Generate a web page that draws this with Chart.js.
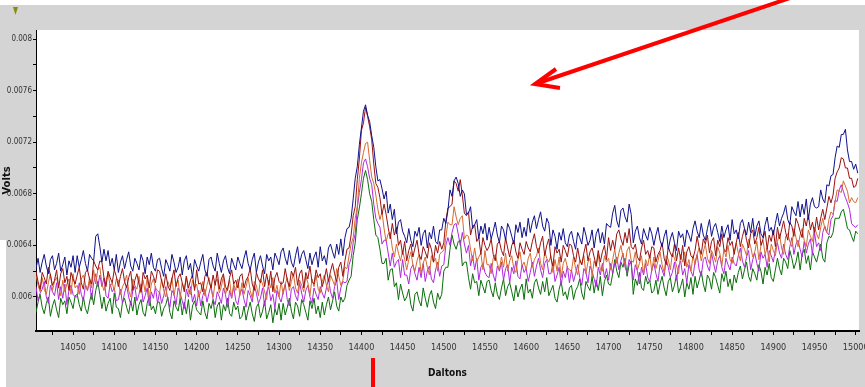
<!DOCTYPE html>
<html>
<head>
<meta charset="utf-8">
<script src="https://cdn.jsdelivr.net/npm/chart.js@4"></script>
<style>
  html, body { margin: 0; padding: 0; background: #fff; }
  #wrap { width: 865px; height: 387px; position: relative; }
</style>
</head>
<body>
<div id="wrap"><canvas id="massChart"></canvas></div>
<script>
// spectra sampled every 2.5 Da from 14005 Da, values in units of 1e-5 V
// one row = 50 Da
var daltonStart = 14005;
var daltonStep = 2.5;

var blueTrace = [
    622, 630, 619, 627, 633, 624, 618, 629, 632, 621, 626, 634, 620, 625, 631, 617, 628, 623, 632, 619,
    632, 623, 629, 636, 626, 620, 633, 630, 628, 647, 649, 639, 627, 637, 628, 636, 624, 630, 621, 633,
    619, 627, 632, 622, 629, 635, 624, 620, 630, 626, 621, 633, 628, 618, 631, 625, 634, 623, 620, 629,
    630, 622, 616, 629, 625, 620, 633, 627, 619, 623, 631, 617, 628, 632, 621, 626, 615, 629, 624, 620,
    627, 633, 621, 616, 629, 631, 624, 620, 634, 626, 619, 628, 632, 623, 618, 630, 625, 621, 631, 626,
    622, 630, 636, 626, 621, 629, 634, 619, 627, 632, 624, 618, 633, 628, 631, 621, 634, 630, 625, 635,
    638, 630, 625, 636, 627, 623, 632, 639, 626, 633, 636, 629, 622, 634, 625, 631, 635, 623, 639, 628,
    632, 625, 638, 641, 635, 630, 641, 633, 645, 632, 646, 653, 654, 661, 676, 692, 701, 718, 731, 744,
    749, 741, 736, 725, 716, 701, 690, 691, 684, 676, 682, 665, 672, 660, 668, 649, 658, 660, 651, 647,
    642, 653, 644, 639, 651, 647, 654, 640, 649, 652, 638, 650, 645, 655, 643, 641, 652, 652, 661, 657,
    667, 683, 678, 690, 693, 688, 678, 683, 680, 664, 665, 670, 653, 656, 660, 645, 655, 649, 657, 644,
    654, 645, 651, 658, 648, 642, 655, 652, 644, 657, 653, 647, 641, 656, 650, 658, 646, 654, 647, 661,
    650, 658, 663, 653, 660, 666, 655, 651, 661, 657, 640, 652, 647, 637, 650, 644, 653, 642, 639, 648,
    651, 643, 637, 650, 646, 641, 654, 648, 640, 644, 652, 638, 649, 653, 642, 650, 641, 657, 655, 654,
    665, 671, 659, 654, 667, 669, 662, 658, 672, 664, 642, 651, 655, 646, 641, 653, 648, 644, 654, 649,
    640, 648, 654, 644, 639, 647, 652, 637, 645, 650, 642, 636, 651, 646, 649, 639, 652, 648, 643, 653,
    659, 651, 646, 657, 648, 644, 653, 660, 647, 654, 657, 650, 643, 655, 646, 652, 656, 644, 660, 649,
    652, 645, 657, 660, 653, 648, 658, 650, 661, 647, 655, 659, 649, 646, 656, 662, 651, 654, 648, 657,
    665, 655, 661, 665, 671, 660, 656, 670, 666, 663, 674, 662, 672, 664, 676, 660, 672, 677, 670, 669,
    670, 683, 676, 673, 687, 686, 694, 695, 708, 717, 716, 726, 726, 730, 714, 705, 705, 699, 703, 696
];

var redTrace = [
    620, 612, 606, 619, 615, 610, 623, 617, 609, 613, 621, 607, 618, 622, 611, 616, 605, 619, 614, 610,
    617, 623, 611, 606, 619, 621, 614, 610, 628, 624, 621, 628, 627, 615, 608, 620, 615, 611, 621, 616,
    608, 616, 622, 612, 607, 615, 620, 605, 613, 618, 610, 604, 619, 614, 617, 607, 620, 616, 611, 621,
    620, 612, 607, 618, 609, 605, 614, 621, 608, 615, 618, 611, 604, 616, 607, 613, 617, 605, 621, 610,
    611, 604, 616, 619, 612, 607, 617, 609, 620, 606, 614, 618, 608, 605, 615, 621, 610, 613, 607, 616,
    618, 607, 613, 616, 622, 610, 605, 619, 614, 611, 621, 608, 618, 609, 620, 604, 615, 619, 612, 610,
    611, 622, 613, 608, 620, 616, 623, 609, 618, 621, 607, 619, 614, 624, 612, 610, 621, 615, 618, 608,
    614, 622, 612, 620, 626, 618, 612, 623, 627, 616, 628, 637, 638, 648, 663, 670, 691, 707, 729, 735,
    747, 740, 732, 722, 703, 688, 685, 677, 664, 672, 664, 654, 645, 657, 648, 654, 640, 644, 633, 643,
    628, 636, 641, 631, 638, 644, 633, 629, 639, 635, 630, 642, 637, 627, 640, 634, 643, 637, 642, 659,
    669, 670, 672, 690, 688, 682, 691, 679, 665, 663, 666, 648, 655, 656, 643, 646, 633, 646, 640, 636,
    639, 645, 633, 628, 641, 643, 636, 632, 646, 638, 631, 640, 644, 635, 630, 642, 637, 633, 643, 638,
    635, 643, 649, 639, 634, 642, 647, 632, 640, 645, 630, 624, 639, 634, 637, 627, 640, 636, 631, 641,
    640, 632, 627, 638, 629, 625, 634, 641, 628, 635, 638, 631, 624, 636, 627, 635, 640, 629, 646, 636,
    644, 637, 649, 652, 645, 640, 650, 642, 653, 639, 637, 641, 631, 628, 638, 644, 633, 636, 630, 639,
    638, 627, 633, 636, 642, 630, 625, 639, 634, 631, 641, 628, 638, 629, 640, 624, 635, 639, 632, 630,
    636, 647, 638, 633, 645, 641, 648, 634, 643, 646, 632, 644, 639, 649, 637, 635, 646, 640, 643, 633,
    642, 650, 639, 647, 653, 644, 638, 649, 652, 641, 646, 654, 640, 645, 651, 637, 648, 643, 652, 639,
    654, 645, 652, 659, 650, 644, 658, 655, 647, 661, 657, 651, 646, 661, 655, 664, 652, 658, 650, 662,
    652, 661, 668, 660, 669, 678, 673, 679, 692, 697, 700, 708, 707, 700, 700, 692, 692, 685, 686, 692
];

var orangeTrace = [
    617, 609, 604, 615, 606, 602, 611, 618, 605, 612, 615, 608, 601, 613, 604, 610, 614, 602, 618, 607,
    609, 602, 614, 617, 610, 605, 615, 607, 621, 610, 621, 623, 610, 605, 613, 619, 608, 611, 605, 614,
    613, 602, 608, 611, 617, 605, 600, 614, 609, 606, 616, 603, 613, 604, 615, 599, 610, 614, 607, 605,
    603, 614, 605, 600, 612, 608, 615, 601, 610, 613, 599, 611, 606, 616, 604, 602, 613, 607, 610, 600,
    604, 612, 601, 609, 615, 606, 600, 611, 614, 603, 608, 616, 602, 607, 613, 599, 610, 605, 614, 601,
    611, 602, 608, 615, 605, 599, 612, 609, 601, 614, 610, 604, 598, 613, 607, 615, 603, 609, 600, 612,
    602, 610, 615, 605, 612, 618, 607, 603, 613, 609, 604, 616, 611, 601, 614, 608, 617, 606, 603, 612,
    617, 609, 604, 617, 613, 609, 622, 616, 609, 613, 623, 622, 632, 641, 646, 661, 670, 692, 704, 712,
    719, 720, 706, 693, 688, 679, 668, 660, 666, 653, 643, 649, 650, 638, 631, 641, 634, 628, 636, 629,
    621, 629, 635, 625, 620, 628, 633, 618, 626, 631, 623, 617, 632, 627, 630, 620, 633, 635, 636, 646,
    658, 656, 656, 670, 662, 656, 661, 663, 645, 648, 647, 637, 628, 638, 627, 631, 634, 621, 636, 625,
    625, 618, 630, 633, 626, 621, 631, 623, 634, 620, 628, 632, 622, 619, 629, 635, 624, 627, 621, 630,
    634, 623, 629, 632, 638, 626, 621, 635, 630, 627, 632, 619, 629, 620, 631, 615, 626, 630, 623, 621,
    620, 631, 622, 617, 629, 625, 632, 618, 627, 630, 616, 628, 623, 633, 621, 620, 632, 627, 630, 621,
    629, 637, 626, 634, 640, 631, 625, 636, 639, 628, 627, 635, 621, 626, 632, 618, 629, 624, 633, 620,
    631, 622, 628, 635, 625, 619, 632, 629, 621, 634, 630, 624, 618, 633, 627, 635, 623, 629, 620, 632,
    625, 633, 638, 628, 635, 641, 630, 626, 636, 632, 627, 639, 634, 624, 637, 631, 640, 629, 626, 635,
    642, 634, 628, 641, 637, 632, 645, 639, 631, 635, 643, 629, 640, 644, 633, 638, 627, 641, 636, 632,
    643, 649, 638, 633, 647, 649, 643, 639, 653, 646, 639, 648, 653, 644, 639, 652, 647, 643, 654, 649,
    645, 654, 661, 653, 650, 660, 666, 664, 674, 683, 682, 681, 690, 686, 682, 673, 677, 674, 673, 677
];

var violetTrace = [
    608, 597, 603, 606, 612, 600, 595, 609, 604, 601, 611, 598, 608, 599, 610, 594, 605, 609, 602, 600,
    600, 611, 602, 597, 609, 605, 612, 598, 611, 618, 608, 617, 608, 615, 601, 599, 610, 604, 607, 597,
    598, 606, 595, 603, 609, 600, 594, 605, 608, 597, 602, 610, 596, 601, 607, 593, 604, 599, 608, 595,
    604, 595, 601, 608, 598, 592, 605, 602, 594, 607, 603, 597, 591, 606, 600, 608, 596, 602, 593, 605,
    593, 601, 606, 596, 603, 609, 598, 594, 604, 600, 595, 607, 602, 592, 605, 599, 608, 597, 594, 603,
    606, 598, 592, 605, 601, 596, 609, 603, 595, 599, 607, 593, 604, 608, 597, 602, 591, 605, 600, 596,
    604, 610, 598, 593, 606, 608, 601, 597, 611, 603, 596, 605, 609, 600, 595, 607, 602, 598, 608, 603,
    599, 607, 614, 604, 599, 608, 613, 598, 607, 612, 611, 612, 625, 630, 642, 649, 669, 681, 691, 704,
    707, 701, 692, 687, 672, 661, 657, 654, 641, 644, 644, 634, 624, 634, 623, 627, 629, 615, 629, 617,
    617, 610, 622, 625, 618, 613, 623, 615, 626, 612, 620, 624, 614, 611, 621, 627, 616, 624, 625, 640,
    646, 640, 650, 656, 657, 649, 640, 650, 641, 634, 640, 624, 632, 621, 630, 613, 623, 626, 619, 616,
    615, 626, 617, 612, 624, 620, 627, 613, 622, 625, 611, 623, 618, 628, 616, 614, 625, 619, 622, 612,
    619, 627, 616, 624, 630, 621, 615, 626, 629, 618, 618, 626, 612, 617, 623, 609, 620, 615, 624, 611,
    621, 612, 618, 625, 615, 609, 622, 619, 611, 624, 620, 614, 608, 623, 617, 626, 615, 622, 613, 626,
    618, 626, 631, 621, 628, 634, 623, 619, 629, 625, 613, 625, 620, 610, 623, 617, 626, 615, 612, 621,
    626, 618, 612, 625, 621, 616, 629, 623, 615, 619, 627, 613, 624, 628, 617, 622, 611, 625, 620, 616,
    627, 633, 621, 616, 629, 631, 624, 620, 634, 626, 619, 628, 632, 623, 618, 630, 625, 621, 631, 626,
    624, 632, 638, 628, 623, 631, 636, 621, 629, 634, 626, 620, 635, 630, 633, 623, 636, 632, 627, 637,
    642, 634, 630, 641, 633, 629, 639, 646, 633, 641, 644, 637, 631, 643, 634, 641, 645, 633, 650, 639,
    642, 636, 650, 655, 650, 648, 660, 663, 675, 674, 683, 687, 682, 677, 673, 668, 657, 655, 654, 656
];

var greenTrace = [
    588, 596, 602, 592, 587, 595, 600, 585, 593, 598, 590, 584, 599, 594, 597, 587, 600, 596, 591, 601,
    602, 594, 589, 600, 591, 587, 596, 603, 594, 605, 612, 602, 591, 600, 589, 595, 599, 587, 603, 592,
    591, 584, 596, 599, 592, 587, 597, 589, 600, 586, 594, 598, 588, 585, 595, 601, 590, 593, 587, 596,
    596, 585, 591, 594, 600, 588, 583, 597, 592, 589, 599, 586, 596, 587, 598, 582, 593, 597, 590, 588,
    586, 597, 588, 583, 595, 591, 598, 584, 593, 596, 582, 594, 589, 599, 587, 585, 596, 590, 593, 583,
    585, 593, 582, 590, 596, 587, 581, 592, 595, 584, 589, 597, 583, 588, 594, 580, 591, 586, 595, 582,
    595, 586, 592, 599, 589, 583, 596, 593, 585, 598, 594, 588, 582, 597, 591, 599, 587, 593, 584, 596,
    586, 594, 600, 590, 597, 604, 593, 589, 600, 596, 599, 609, 613, 616, 632, 642, 660, 669, 680, 692,
    698, 691, 680, 674, 660, 648, 646, 637, 626, 626, 630, 613, 621, 622, 608, 611, 598, 610, 603, 597,
    600, 606, 594, 589, 602, 604, 597, 593, 607, 599, 592, 601, 605, 596, 591, 603, 598, 602, 620, 623,
    623, 637, 648, 641, 637, 643, 644, 624, 627, 627, 615, 606, 618, 611, 612, 601, 613, 608, 603, 612,
    613, 605, 600, 611, 602, 598, 607, 614, 601, 608, 611, 604, 597, 609, 600, 606, 610, 598, 614, 603,
    606, 599, 611, 614, 607, 602, 612, 604, 615, 601, 605, 609, 599, 596, 606, 612, 601, 604, 598, 607,
    609, 598, 605, 608, 614, 603, 598, 612, 608, 605, 616, 603, 613, 605, 616, 601, 612, 617, 610, 609,
    618, 629, 620, 615, 627, 623, 630, 616, 625, 628, 602, 614, 609, 619, 607, 605, 616, 610, 613, 603,
    605, 613, 602, 610, 616, 607, 601, 612, 615, 604, 609, 617, 603, 608, 614, 600, 611, 606, 615, 602,
    616, 607, 613, 620, 610, 604, 617, 614, 606, 619, 615, 609, 603, 618, 612, 620, 608, 614, 605, 617,
    611, 619, 624, 614, 621, 627, 616, 612, 622, 618, 613, 625, 620, 610, 623, 617, 626, 615, 612, 621,
    630, 622, 617, 630, 627, 622, 636, 630, 622, 627, 635, 621, 633, 637, 626, 632, 621, 635, 631, 627,
    634, 641, 630, 627, 642, 647, 646, 650, 661, 661, 661, 666, 668, 661, 653, 652, 647, 643, 651, 649
];

var xTickLabels = [14050, 14100, 14150, 14200, 14250, 14300, 14350, 14400, 14450, 14500,
    14550, 14600, 14650, 14700, 14750, 14800, 14850, 14900, 14950, 15000];
var yTickLabels = [0.006, 0.0064, 0.0068, 0.0072, 0.0076, 0.008];

function toPoints(trace) {
    return trace.map(function (v, i) {
        return { x: daltonStart + i * daltonStep, y: v / 100000 };
    });
}

function makeSet(label, trace, color) {
    return {
        label: label,
        data: toPoints(trace),
        borderColor: color,
        borderWidth: 1,
        pointRadius: 0,
        tension: 0,
        fill: false
    };
}

var narrowFont = "'Liberation Sans Narrow', 'DejaVu Sans Condensed', sans-serif";

// gray frame behind the white plot area, plus the hand drawn marks
var framePlugin = {
    id: 'frame',
    beforeDraw: function (chart) {
        var ctx = chart.ctx;
        var area = chart.chartArea;
        ctx.save();
        ctx.fillStyle = '#ffffff';
        ctx.fillRect(0, 0, chart.width, chart.height);
        ctx.fillStyle = '#d4d4d4';
        ctx.fillRect(0, 5, chart.width, chart.height - 5);
        ctx.fillStyle = '#ffffff';
        ctx.fillRect(0, 240, 6, chart.height - 240);
        ctx.fillRect(area.left, area.top, area.right - area.left, area.bottom - area.top);
        ctx.restore();
    },
    afterDraw: function (chart) {
        var ctx = chart.ctx;
        ctx.save();
        // olive marker top left
        ctx.fillStyle = '#8a8a10';
        ctx.beginPath();
        ctx.moveTo(13, 7);
        ctx.lineTo(18, 7);
        ctx.lineTo(15.5, 15);
        ctx.closePath();
        ctx.fill();
        // red arrow
        ctx.strokeStyle = '#ff0000';
        ctx.lineWidth = 4;
        ctx.beginPath();
        ctx.moveTo(790, -2);
        ctx.lineTo(538, 83);
        ctx.stroke();
        ctx.beginPath();
        ctx.moveTo(556, 69);
        ctx.lineTo(535, 84);
        ctx.lineTo(560, 88);
        ctx.stroke();
        // red marker under the axis
        ctx.fillStyle = '#ff0000';
        ctx.fillRect(371, 358, 4, 29);
        ctx.restore();
    }
};

var ctx = document.getElementById('massChart');
new Chart(ctx, {
    type: 'line',
    data: {
        datasets: [
            makeSet('Blue', blueTrace, '#10108c'),
            makeSet('Red', redTrace, '#9a1010'),
            makeSet('Orange', orangeTrace, '#d86a30'),
            makeSet('Violet', violetTrace, '#b028e0'),
            makeSet('Green', greenTrace, '#0a6e0a')
        ]
    },
    options: {
        responsive: true,
        maintainAspectRatio: false,
        animation: false,
        layout: { padding: { left: 0, top: 30, right: 6, bottom: 0 } },
        plugins: {
            legend: { display: false },
            tooltip: { enabled: false }
        },
        scales: {
            x: {
                type: 'linear',
                min: 14005,
                max: 15004,
                afterFit: function (scale) {
                    scale.height = 56;
                    // keep the 15000 label from shrinking the plot
                    scale.paddingLeft = 0;
                    scale.paddingRight = 0;
                },
                afterBuildTicks: function (scale) {
                    var ticks = [];
                    xTickLabels.forEach(function (v) {
                        ticks.push({ value: v - 25 });
                        ticks.push({ value: v });
                    });
                    scale.ticks = ticks;
                },
                ticks: {
                    autoSkip: false,
                    maxRotation: 0,
                    padding: 7,
                    color: '#333',
                    font: { family: narrowFont, size: 9 },
                    callback: function (v) { return v % 50 === 0 ? String(v) : ''; }
                },
                grid: { drawOnChartArea: false, drawTicks: true, tickLength: 4, color: '#000' },
                border: { color: '#000', width: 2 },
                title: {
                    display: true,
                    text: 'Daltons',
                    color: '#111',
                    padding: { top: 0, bottom: 8 },
                    font: { family: narrowFont, size: 10, weight: 'bold' }
                }
            },
            y: {
                min: 0.005736,
                max: 0.00807,
                afterFit: function (scale) {
                    scale.width = 36;
                    scale.paddingTop = 0;
                    scale.paddingBottom = 0;
                },
                afterBuildTicks: function (scale) {
                    var ticks = [];
                    yTickLabels.forEach(function (v) {
                        ticks.push({ value: v });
                        ticks.push({ value: v + 0.0002 });
                    });
                    scale.ticks = ticks.filter(function (t) { return t.value < 0.00807; });
                },
                ticks: {
                    autoSkip: false,
                    padding: 1,
                    color: '#333',
                    font: { family: narrowFont, size: 8 },
                    callback: function (v) {
                        var r = +v.toFixed(4);
                        return yTickLabels.indexOf(r) >= 0 ? String(r) : '';
                    }
                },
                grid: { drawOnChartArea: false, drawTicks: true, tickLength: 3, color: '#000' },
                border: { color: '#000', width: 1 },
                title: {
                    display: true,
                    text: 'Volts',
                    color: '#111',
                    padding: { top: 1, bottom: 0 },
                    font: { family: "'DejaVu Sans', sans-serif", size: 10, weight: 'bold' }
                }
            }
        }
    },
    plugins: [framePlugin]
});
</script>
</body>
</html>
